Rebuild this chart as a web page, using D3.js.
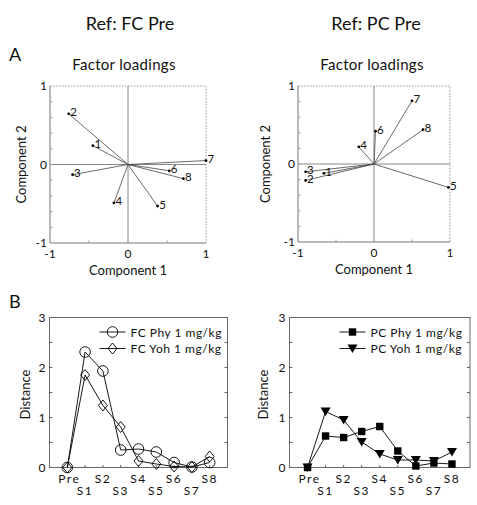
<!DOCTYPE html>
<html><head><meta charset="utf-8">
<script src="https://cdn.jsdelivr.net/npm/d3@7/dist/d3.min.js"></script>
<style>
body{margin:0;background:#fff;}
svg text{font-family:Lato,"Open Sans",sans-serif;fill:#111;}
</style></head><body>
<svg id="c" width="477" height="505"></svg>
<script>
// ---------- data ----------
const variables = ["1","2","3","4","5","6","7","8"];
const fcComp1 = [-0.45,-0.76,-0.71,-0.18,0.38,0.53,1.0,0.71];
const fcComp2 = [0.24,0.645,-0.13,-0.49,-0.53,-0.08,0.05,-0.18];
const pcComp1 = [-0.66,-0.9,-0.9,-0.2,0.98,0.02,0.5,0.645];
const pcComp2 = [-0.12,-0.21,-0.10,0.22,-0.30,0.42,0.81,0.44];

const sessions = ["Pre","S1","S2","S3","S4","S5","S6","S7","S8"];
const fcPhy = [0,2.31,1.93,0.35,0.37,0.31,0.10,0.01,0.10];
const fcYoh = [0,1.85,1.24,0.81,0.13,0.07,0.02,0.01,0.22];
const pcPhy = [0,0.63,0.60,0.72,0.82,0.33,0.03,0.09,0.07];
const pcYoh = [0,1.12,0.95,0.51,0.27,0.15,0.15,0.13,0.31];

const titles = ["Ref: FC Pre","Ref: PC Pre"];
const loadTicks = [-1,0,1];
const distTicks = [0,1,2,3];

const svg = d3.select("#c");

svg.append("text").attr("x",130).attr("y",30).attr("text-anchor","middle").attr("font-size",18).text(titles[0]);
svg.append("text").attr("x",376).attr("y",30).attr("text-anchor","middle").attr("font-size",18).text(titles[1]);
svg.append("text").attr("x",9).attr("y",61).attr("font-size",18).text("A");
svg.append("text").attr("x",9).attr("y",308).attr("font-size",18).text("B");

function loadingPanel(x0,x1,y0,y1,c1,c2,ylabX,titleX){
  const x = d3.scaleLinear().domain([-1,1]).range([x0,x1]);
  const y = d3.scaleLinear().domain([-1,1]).range([y1,y0]);
  const g = svg.append("g");
  g.append("text").attr("x",titleX).attr("y",70).attr("text-anchor","middle").attr("font-size",15).attr("letter-spacing","0.3").text("Factor loadings");
  g.append("path").attr("d",`M${x0},${y0}H${x1}V${y1}`).attr("fill","none").attr("stroke","#999").attr("stroke-dasharray","1.5,1.5");
  g.append("path").attr("d",`M${x0},${y0}V${y1}H${x1}`).attr("fill","none").attr("stroke","#777");
  g.append("line").attr("x1",x(0)).attr("x2",x(0)).attr("y1",y0).attr("y2",y1).attr("stroke","#888");
  g.append("line").attr("x1",x0).attr("x2",x1).attr("y1",y(0)).attr("y2",y(0)).attr("stroke","#888");
  const yt = d3.range(-0.8,0.81,0.2);
  g.selectAll(null).data(yt).join("line").attr("x1",x0).attr("x2",x0+2.5).attr("y1",d=>y(d)).attr("y2",d=>y(d)).attr("stroke","#999");
  g.selectAll(null).data([-0.5,0.5]).join("line").attr("x1",d=>x(d)).attr("x2",d=>x(d)).attr("y1",y1).attr("y2",y1-2.5).attr("stroke","#999");
  g.selectAll(null).data(loadTicks).join("text").attr("x",x0-3).attr("y",d=>y(d)+4).attr("text-anchor","end").attr("font-size",12).text(d=>d);
  g.selectAll(null).data(loadTicks).join("text").attr("x",d=>x(d)).attr("y",y1+15).attr("text-anchor","middle").attr("font-size",12).text(d=>d);
  g.append("text").attr("x",(x0+x1)/2).attr("y",y1+32).attr("text-anchor","middle").attr("font-size",13).text("Component 1");
  g.append("text").attr("transform",`translate(${ylabX},${(y0+y1)/2}) rotate(-90)`).attr("text-anchor","middle").attr("font-size",13).text("Component 2");
  const pts = variables.map((v,i)=>({v, a:c1[i], b:c2[i]}));
  g.selectAll(null).data(pts).join("line").attr("x1",x(0)).attr("y1",y(0)).attr("x2",d=>x(d.a)).attr("y2",d=>y(d.b)).attr("stroke","#444").attr("stroke-width",0.8);
  g.selectAll(null).data(pts).join("circle").attr("cx",d=>x(d.a)).attr("cy",d=>y(d.b)).attr("r",1.4).attr("fill","#000");
  g.selectAll(null).data(pts).join("text").attr("x",d=>x(d.a)+1.5).attr("y",d=>y(d.b)+2.5).attr("font-size",11.5).text(d=>d.v);
}
loadingPanel(50,206,86,243,fcComp1,fcComp2,26,124);
loadingPanel(298,450,86,242,pcComp1,pcComp2,270,372);

function distPanel(x0,x1,y0,y1,s1,s2,names,m1,m2,ylabX){
  const x = d3.scaleLinear().domain([-1,9]).range([x0,x1]);
  const y = d3.scaleLinear().domain([0,3]).range([y1,y0]);
  const g = svg.append("g");
  g.append("rect").attr("x",x0).attr("y",y0).attr("width",x1-x0).attr("height",y1-y0).attr("fill","none").attr("stroke","#666");
  const yt = d3.range(0.5,3,0.5);
  g.selectAll(null).data(yt).join("line").attr("x1",x0).attr("x2",x0+3).attr("y1",d=>y(d)).attr("y2",d=>y(d)).attr("stroke","#666");
  g.selectAll(null).data(yt).join("line").attr("x1",x1).attr("x2",x1-3).attr("y1",d=>y(d)).attr("y2",d=>y(d)).attr("stroke","#666");
  g.selectAll(null).data(sessions).join("line").attr("x1",(d,i)=>x(i)).attr("x2",(d,i)=>x(i)).attr("y1",y1).attr("y2",y1-2.5).attr("stroke","#666");
  g.selectAll(null).data(distTicks).join("text").attr("x",x0-4).attr("y",d=>y(d)+4).attr("text-anchor","end").attr("font-size",12).text(d=>d);
  g.selectAll(null).data(sessions).join("text").attr("x",(d,i)=>x(i)+(i===0?2:0)).attr("y",(d,i)=>i%2===0?y1+15:y1+27).attr("text-anchor","middle").attr("font-size",12).attr("letter-spacing","1.5").text(d=>d);
  g.append("text").attr("transform",`translate(${ylabX},${(y0+y1)/2+2}) rotate(-90)`).attr("text-anchor","middle").attr("font-size",13).text("Distance");
  const line = d3.line().x((d,i)=>x(i)).y(d=>y(d));
  [s1,s2].forEach(s=>{
    g.append("path").datum(s).attr("d",line).attr("fill","none").attr("stroke","#000").attr("stroke-width",0.9);
  });
  function marker(sel,type){
    if(type==="circle") sel.append("circle").attr("r",5.3).attr("fill","none").attr("stroke","#000").attr("stroke-width",0.9);
    if(type==="diamond") sel.append("path").attr("d","M0,-5.5L4.5,0L0,5.5L-4.5,0Z").attr("fill","none").attr("stroke","#000").attr("stroke-width",0.9);
    if(type==="square") sel.append("rect").attr("x",-3.7).attr("y",-3.7).attr("width",7.4).attr("height",7.4).attr("fill","#000");
    if(type==="triangle") sel.append("path").attr("d","M-5,-4L5,-4L0,4.5Z").attr("fill","#000");
  }
  [[s1,m1],[s2,m2]].forEach(([s,m])=>{
    s.forEach((v,i)=>{ marker(g.append("g").attr("transform",`translate(${x(i)},${y(v)})`),m); });
  });
  [[names[0],m1],[names[1],m2]].forEach(([n,m],k)=>{
    const ly = 332 + k*16.5;
    const lx = x0+50;
    g.append("line").attr("x1",lx).attr("x2",lx+26).attr("y1",ly).attr("y2",ly).attr("stroke","#000").attr("stroke-width",0.9);
    marker(g.append("g").attr("transform",`translate(${lx+13},${ly})`),m);
    g.append("text").attr("x",lx+31).attr("y",ly+4.5).attr("font-size",12).attr("letter-spacing","0.5").text(n);
  });
}
distPanel(49.5,227.5,317.5,467.5,fcPhy,fcYoh,["FC Phy 1 mg/kg","FC Yoh 1 mg/kg"],"circle","diamond",30);
distPanel(289.5,470,317.5,467.5,pcPhy,pcYoh,["PC Phy 1 mg/kg","PC Yoh 1 mg/kg"],"square","triangle",268);
</script>
</body></html>
